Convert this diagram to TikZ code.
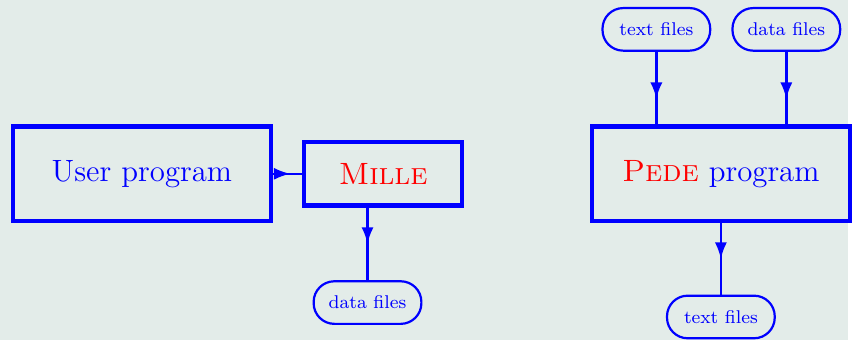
\documentclass[tikz,border=0pt]{standalone}
\usepackage{tikz}
\usetikzlibrary{arrows.meta}
\usetikzlibrary{positioning}
\usetikzlibrary{decorations.markings}
\definecolor{bgcol}{RGB}{227,236,233}

\tikzset{
  prog/.style={draw=blue,line width=1.9pt,text=blue,inner sep=0pt,
    font=\fontsize{14}{16}\selectfont},
  files/.style={draw=blue,line width=1pt,rounded corners=0.33cm,text=blue,
    inner sep=0pt,minimum width=1.72cm,minimum height=0.68cm,
    font=\fontsize{8.4}{10}\selectfont},
  flow/.style={blue,line width=1.1pt,postaction={decorate},
    decoration={markings,mark=at position #1 with {\arrow{Latex[length=7.5pt,width=5.5pt]}}}},
  flow/.default=0.5
}

\begin{document}
\begin{tikzpicture}
    \fill[bgcol] (-2.266,-2.647) rectangle (11.28,2.775);
    \node[prog,minimum width=4.12cm,minimum height=1.51cm] (user) at (0,0) {User program};
    \node[prog,right=0.46cm of user,minimum width=2.53cm,minimum height=1.01cm] (mille) {\textcolor{red}{\textsc{Mille}}};
    \node[files,below=1.16cm of mille,xshift=-0.25cm] (ldata) {data files};
    \node[prog,right=2cm of mille,minimum width=4.12cm,minimum height=1.51cm] (pede) {\textcolor{red}{\textsc{Pede}} program};
    \node[files,above=1.16cm of pede,xshift=-1.03cm] (ttext) {text files};
    \node[files,right=0.32cm of ttext] (tdata) {data files};
    \node[files,below=1.14cm of pede] (btext) {text files};
    \draw[flow=0.6] (user) -- (mille);
    \draw[flow] (mille.south -| ldata.north) -- (ldata.north);
    \draw[flow=0.65] (ttext) -- (ttext |- pede.north);
    \draw[flow=0.65] (tdata) -- (tdata |- pede.north);
    \draw[flow] (pede) -- (btext);
\end{tikzpicture}
\end{document}
